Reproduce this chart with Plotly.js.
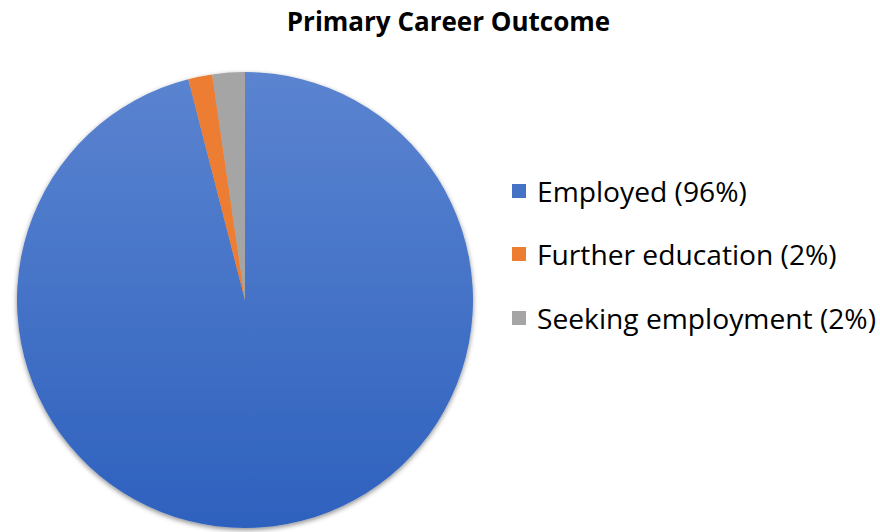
<!DOCTYPE html>
<html>
<head>
<meta charset="utf-8">
<script src="https://cdn.plot.ly/plotly-3.0.1.min.js"></script>
<style>html,body{margin:0;padding:0;background:#fff;}#chart{width:880px;height:532px;}</style>
</head>
<body>
<div id="chart"></div>
<script>
const labels = ["Employed", "Further education", "Seeking employment"];
const values = [96.0, 1.7, 2.3];
const legendText = ["Employed (96%)", "Further education (2%)", "Seeking employment (2%)"];
const colors = ["#4472C4", "#ED7D31", "#A5A5A5"];
const titleText = "Primary Career Outcome";

const FONT = "Open Sans, sans-serif";
const legendY = [191, 254, 318]; // pixel rows
const H = 532, W = 880;

const annotations = [];
const shapes = [];
legendText.forEach((t, i) => {
  const yc = 1 - legendY[i] / H;
  shapes.push({type: "rect", xref: "paper", yref: "paper",
    x0: 512 / W, x1: 526 / W, y0: yc - 7 / H, y1: yc + 7 / H,
    fillcolor: colors[i], line: {width: 0}});
  annotations.push({xref: "paper", yref: "paper", x: 535 / W, y: yc,
    xanchor: "left", yanchor: "middle", showarrow: false, text: t,
    font: {family: FONT, size: 28.2, color: "#000"}});
});

const data = [{
  type: "pie", labels: labels, values: values, sort: false,
  direction: "clockwise", rotation: 0,
  marker: {colors: colors, line: {width: 0}},
  textinfo: "none", hoverinfo: "label+percent",
  domain: {x: [17 / W, 473 / W], y: [1 - 528 / H, 1 - 72 / H]},
  showlegend: false
}];

const layout = {
  width: W, height: H,
  margin: {l: 0, r: 0, t: 0, b: 0},
  paper_bgcolor: "#fff",
  title: {text: "<b>" + titleText + "</b>", x: 448.5 / W, xanchor: "center",
    y: 1 - 22 / H, yanchor: "middle",
    font: {family: FONT, size: 26, color: "#000"}},
  showlegend: false,
  annotations: annotations, shapes: shapes
};

Plotly.newPlot("chart", data, layout, {displayModeBar: false, staticPlot: true}).then(gd => {
  const svg = gd.querySelector("svg.main-svg");
  const ns = "http://www.w3.org/2000/svg";
  let defs = svg.querySelector("defs");
  const grad = document.createElementNS(ns, "linearGradient");
  grad.setAttribute("id", "blueGrad");
  grad.setAttribute("x1", "0"); grad.setAttribute("y1", "0");
  grad.setAttribute("x2", "0"); grad.setAttribute("y2", "1");
  grad.setAttribute("gradientUnits", "objectBoundingBox");
  [["0", "#5B84D0"], ["1", "#2E61BE"]].forEach(([o, c]) => {
    const s = document.createElementNS(ns, "stop");
    s.setAttribute("offset", o); s.setAttribute("stop-color", c);
    grad.appendChild(s);
  });
  const filt = document.createElementNS(ns, "filter");
  filt.setAttribute("id", "pieShadow");
  filt.setAttribute("x", "-10%"); filt.setAttribute("y", "-10%");
  filt.setAttribute("width", "120%"); filt.setAttribute("height", "120%");
  const fe = document.createElementNS(ns, "feDropShadow");
  fe.setAttribute("dx", "0"); fe.setAttribute("dy", "2");
  fe.setAttribute("stdDeviation", "2.5"); fe.setAttribute("flood-color", "#000");
  fe.setAttribute("flood-opacity", "0.45");
  filt.appendChild(fe);
  defs.appendChild(grad); defs.appendChild(filt);
  const slices = gd.querySelectorAll("g.slice path.surface");
  if (slices[0]) slices[0].style.fill = "url(#blueGrad)";
  const trace = gd.querySelector("g.trace");
  if (trace) trace.setAttribute("filter", "url(#pieShadow)");
});
</script>
</body>
</html>
